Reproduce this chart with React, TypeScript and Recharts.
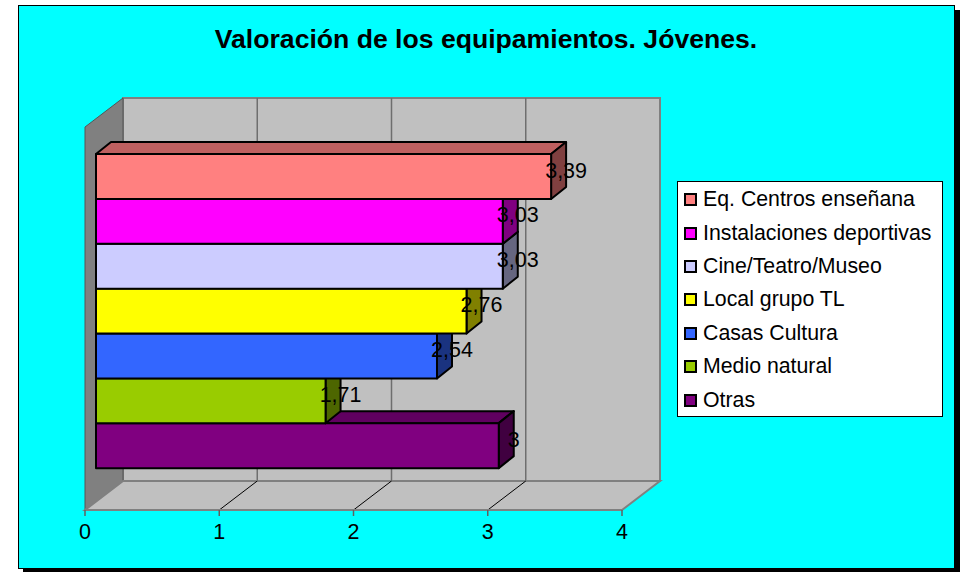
import React from 'react';
import { BarChart, Bar, XAxis, YAxis, Legend, LabelList, Customized } from 'recharts';

const chartTitle = 'Valoración de los equipamientos. Jóvenes.';
const seriesNames = [
  'Eq. Centros enseñana',
  'Instalaciones deportivas',
  'Cine/Teatro/Museo',
  'Local grupo TL',
  'Casas Cultura',
  'Medio natural',
  'Otras',
];
const seriesValues = [3.39, 3.03, 3.03, 2.76, 2.54, 1.71, 3];
const seriesColors = ['#FF8080', '#FF00FF', '#CCCCFF', '#FFFF00', '#3366FF', '#99CC00', '#800080'];
const xTicks = [0, 1, 2, 3, 4];

// layout constants
const W = 964;
const H = 572;
const PLOT_L = 85;
const PLOT_R = 622;
const PLOT_T = 127;
const PLOT_B = 510;
const WALL_DX = 38;
const WALL_DY = -29;
const BAR_OFF_X = 11;
const BAR_OFF_Y = -9;
const BAR_DX = 15;
const BAR_DY = -12;
const X_AXIS_H = 30;
const FONT = '"Liberation Sans", Arial, sans-serif';

// drawn bottom-up so that upper bars cover the top faces of the lower ones
const data = seriesNames
  .map((name, i) => ({ name, value: seriesValues[i], color: seriesColors[i] }))
  .reverse();

const shade = (hex: string, f: number) => {
  const n = parseInt(hex.slice(1), 16);
  const r = Math.round(((n >> 16) & 255) * f);
  const g = Math.round(((n >> 8) & 255) * f);
  const b = Math.round((n & 255) * f);
  return `rgb(${r},${g},${b})`;
};

const xMax = xTicks[xTicks.length - 1];
const xFront = (v: number) => PLOT_L + (v / xMax) * (PLOT_R - PLOT_L);

const Background3D = () => {
  const bL = PLOT_L + WALL_DX;
  const bR = PLOT_R + WALL_DX;
  const bT = PLOT_T + WALL_DY;
  const bB = PLOT_B + WALL_DY;
  return (
    <g>
      <text
        x={486}
        y={48}
        textAnchor="middle"
        fontFamily={FONT}
        fontWeight="bold"
        fontSize={26.6}
        fill="#000"
      >
        {chartTitle}
      </text>
      {/* back wall */}
      <rect x={bL} y={bT} width={bR - bL} height={bB - bT} fill="#C0C0C0" stroke="#808080" strokeWidth={2} />
      {xTicks.slice(1, -1).map((t) => (
        <line key={`bg${t}`} x1={xFront(t) + WALL_DX} x2={xFront(t) + WALL_DX} y1={bT} y2={bB} stroke="#6E6E6E" strokeWidth={1.5} />
      ))}
      {/* left wall */}
      <polygon
        points={`${PLOT_L},${PLOT_T} ${bL},${bT} ${bL},${bB} ${PLOT_L},${PLOT_B}`}
        fill="#808080"
        stroke="#555"
        strokeWidth={1}
      />
      {/* floor */}
      <polygon
        points={`${PLOT_L},${PLOT_B} ${PLOT_R},${PLOT_B} ${bR},${bB} ${bL},${bB}`}
        fill="#C0C0C0"
        stroke="#808080"
        strokeWidth={2}
      />
      {xTicks.slice(1, -1).map((t) => (
        <line key={`fg${t}`} x1={xFront(t)} x2={xFront(t) + WALL_DX} y1={PLOT_B} y2={bB} stroke="#000" strokeWidth={1} />
      ))}
    </g>
  );
};

const Bar3D = (props: any) => {
  const { x, y, width, height, payload } = props;
  if (width == null || height == null) return null;
  const fx = x + BAR_OFF_X;
  const fy = y + BAR_OFF_Y;
  const w = width;
  const h = height;
  const c = payload.color;
  return (
    <g stroke="#000" strokeWidth={2} strokeLinejoin="round">
      <polygon
        points={`${fx},${fy} ${fx + w},${fy} ${fx + w + BAR_DX},${fy + BAR_DY} ${fx + BAR_DX},${fy + BAR_DY}`}
        fill={shade(c, 0.75)}
      />
      <polygon
        points={`${fx + w},${fy} ${fx + w + BAR_DX},${fy + BAR_DY} ${fx + w + BAR_DX},${fy + h + BAR_DY} ${fx + w},${fy + h}`}
        fill={shade(c, 0.5)}
      />
      <rect x={fx} y={fy} width={w} height={h} fill={c} />
    </g>
  );
};

const ValueLabel = (props: any) => {
  const { x, y, width, height, value } = props;
  const cx = x + width + BAR_OFF_X + BAR_DX;
  const cy = y + height / 2 + BAR_OFF_Y + BAR_DY / 2;
  return (
    <text
      x={cx}
      y={cy}
      textAnchor="middle"
      dominantBaseline="central"
      fontFamily={FONT}
      fontSize={21.5}
      fill="#000"
    >
      {String(value).replace('.', ',')}
    </text>
  );
};

const LegendBox = () => (
  <div
    style={{
      boxSizing: 'border-box',
      width: 266,
      height: 236,
      background: '#FFFFFF',
      border: '1px solid #000',
      paddingTop: 1,
      fontFamily: FONT,
      fontSize: 21.3,
      color: '#000',
    }}
  >
    {seriesNames.map((name, i) => (
      <div key={name} style={{ display: 'flex', alignItems: 'center', height: 33.4, paddingLeft: 6 }}>
        <span
          style={{
            display: 'inline-block',
            boxSizing: 'border-box',
            width: 13,
            height: 13,
            background: seriesColors[i],
            border: '2px solid #000',
            marginRight: 6,
          }}
        />
        <span style={{ whiteSpace: 'nowrap' }}>{name}</span>
      </div>
    ))}
  </div>
);

export default function App() {
  return (
    <div style={{ position: 'absolute', left: 0, top: 0, width: W, height: H }}>
      <div
        style={{
          position: 'absolute',
          left: 18,
          top: 5,
          width: 937,
          height: 564,
          boxSizing: 'border-box',
          background: '#00FFFF',
          border: '1px solid #000',
          boxShadow: '5px 5px 0 #000',
        }}
      />
      <div style={{ position: 'absolute', left: 0, top: 0 }}>
        <BarChart
          width={W}
          height={H}
          data={data}
          layout="vertical"
          margin={{ top: PLOT_T, right: W - PLOT_R, bottom: H - PLOT_B - X_AXIS_H, left: PLOT_L }}
          barCategoryGap={0}
          barGap={0}
        >
          <Customized component={Background3D} />
          <XAxis
            type="number"
            domain={[0, xMax]}
            ticks={xTicks}
            interval={0}
            height={X_AXIS_H}
            tickSize={6}
            tickMargin={8}
            axisLine={{ stroke: '#808080', strokeWidth: 2 }}
            tickLine={{ stroke: '#606060', strokeWidth: 1.5 }}
            tick={{ fill: '#000', fontSize: 21.5, fontFamily: FONT }}
          />
          <YAxis
            type="category"
            dataKey="name"
            hide
            reversed
            width={0}
            padding={{ top: 36, bottom: 33 }}
          />
          <Legend
            layout="vertical"
            align="center"
            verticalAlign="middle"
            content={() => <LegendBox />}
            wrapperStyle={{ left: 677, top: 181, width: 266, height: 236 }}
          />
          <Bar dataKey="value" isAnimationActive={false} shape={Bar3D}>
            <LabelList dataKey="value" content={ValueLabel} />
          </Bar>
        </BarChart>
      </div>
    </div>
  );
}
